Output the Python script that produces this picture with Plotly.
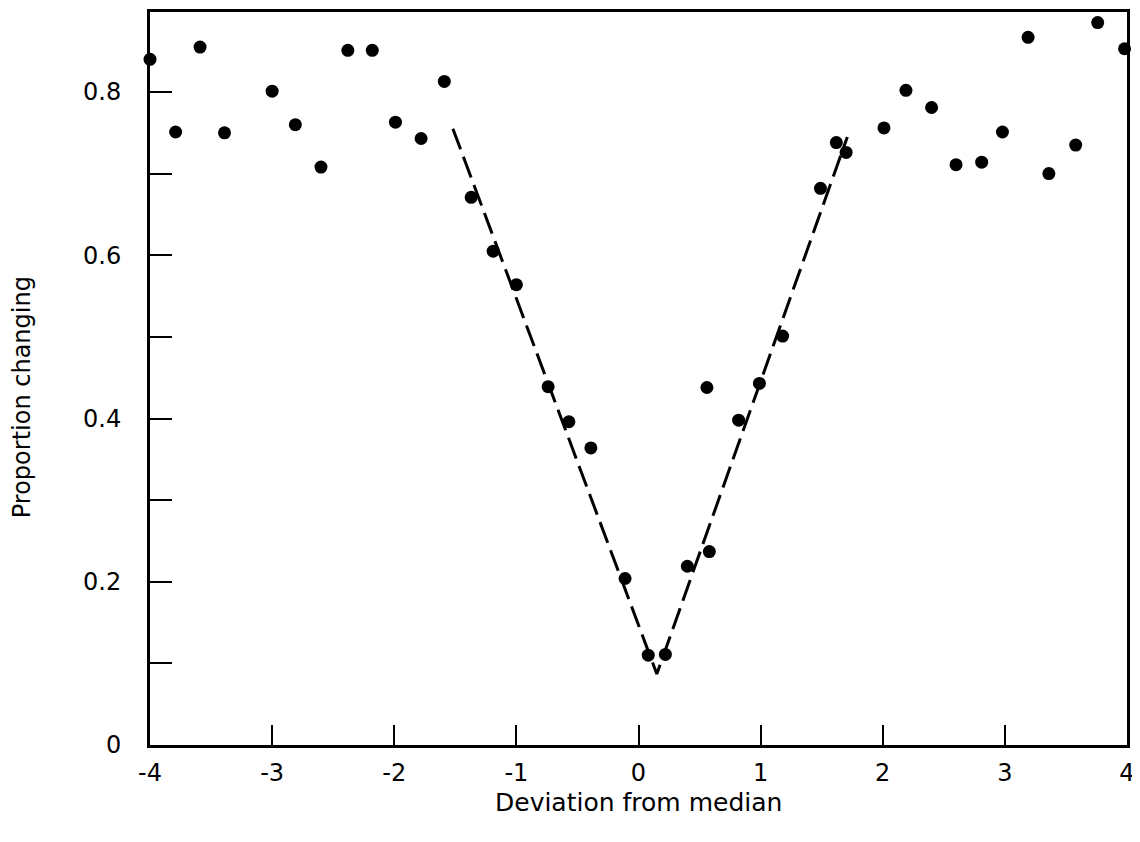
import plotly.graph_objects as go

# Observed points: deviation from median vs proportion changing
deviation = [-4.00, -3.79, -3.59, -3.39, -3.00, -2.81, -2.60, -2.38, -2.18, -1.99,
             -1.78, -1.59, -1.37, -1.19, -1.00, -0.74, -0.57, -0.39, -0.11, 0.08,
             0.22, 0.40, 0.58, 0.56, 0.82, 0.99, 1.18, 1.49, 1.62, 1.70,
             2.01, 2.19, 2.40, 2.60, 2.81, 2.98, 3.19, 3.36, 3.58, 3.76, 3.98]
proportion = [0.840, 0.751, 0.855, 0.750, 0.801, 0.760, 0.708, 0.851, 0.851, 0.763,
              0.743, 0.813, 0.671, 0.605, 0.564, 0.439, 0.396, 0.364, 0.204, 0.110,
              0.111, 0.219, 0.237, 0.438, 0.398, 0.443, 0.501, 0.682, 0.738, 0.726,
              0.756, 0.802, 0.781, 0.711, 0.714, 0.751, 0.867, 0.700, 0.735, 0.885, 0.853]

# Fitted V (dashed)
fit_x = [-1.52, 0.15, 1.71]
fit_y = [0.755, 0.087, 0.745]

x_ticks = [-4, -3, -2, -1, 0, 1, 2, 3, 4]
x_ticktext = ["-4", "-3", "-2", "-1", "0", "1", "2", "3", "4"]
y_ticks = [0, 0.2, 0.4, 0.6, 0.8]
y_ticktext = ["0", "0.2", "0.4", "0.6", "0.8"]

FONT = "DejaVu Sans"

fig = go.Figure()
fig.add_trace(go.Scatter(x=fit_x, y=fit_y, mode="lines",
                         line=dict(color="black", width=3, dash="22px,8px"),
                         hoverinfo="skip", showlegend=False))
fig.add_trace(go.Scatter(x=deviation, y=proportion, mode="markers",
                         marker=dict(color="black", size=13),
                         showlegend=False, cliponaxis=False))

fig.update_layout(
    width=1140, height=842,
    margin=dict(l=142, r=21, t=1, b=105),
    paper_bgcolor="white", plot_bgcolor="white",
    font=dict(family=FONT, color="black", size=24),
    xaxis=dict(range=[-4, 4], tickvals=x_ticks, ticktext=x_ticktext,
               ticks="inside", ticklen=20, tickwidth=2, tickcolor="black",
               showline=True, linecolor="black", linewidth=3, mirror=True,
               showgrid=False, zeroline=False, ticklabelstandoff=4,
               tickfont=dict(size=24)),
    yaxis=dict(range=[0, 0.898], tickvals=y_ticks, ticktext=y_ticktext,
               ticks="inside", ticklen=22, tickwidth=2, tickcolor="black",
               minor=dict(dtick=0.1, tick0=0, ticks="inside", ticklen=22,
                          tickwidth=2, tickcolor="black", showgrid=False),
               showline=True, linecolor="black", linewidth=3, mirror=True,
               showgrid=False, zeroline=False, ticklabelstandoff=21,
               tickfont=dict(size=24)),
    annotations=[
        dict(text="Deviation from median", xref="paper", yref="paper",
             x=0.5, y=-0.056, xanchor="center", yanchor="top", showarrow=False,
             font=dict(size=25)),
        dict(text="Proportion changing", xref="paper", yref="paper",
             x=-0.148, y=0.475, xanchor="left", yanchor="middle", textangle=-90,
             showarrow=False, font=dict(size=24)),
    ],
)

fig.write_html("out.html")
